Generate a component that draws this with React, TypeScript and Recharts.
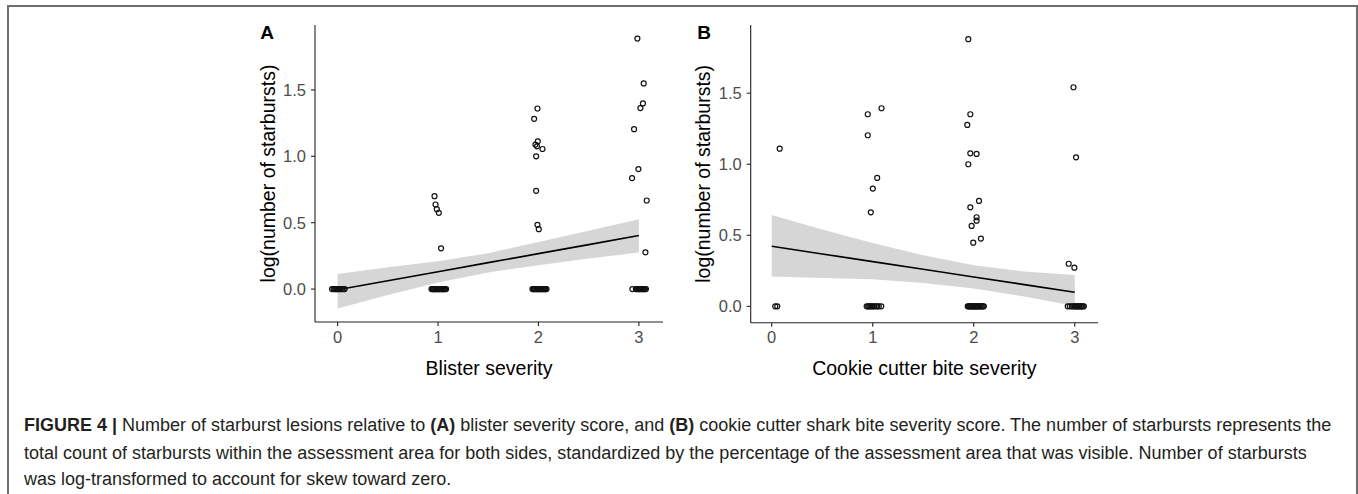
import { ComposedChart, Scatter, Area, Line, XAxis, YAxis } from "recharts";

// fitted line / ribbon grid (severity score)
const fitX = [0, 0.5, 1, 1.5, 2, 2.5, 3];

// panel A: blister severity
const blisterFit = [-0.005, 0.063, 0.131, 0.199, 0.267, 0.335, 0.403];
const blisterLow = [-0.146, -0.045, 0.05, 0.125, 0.18, 0.23, 0.275];
const blisterHigh = [0.113, 0.165, 0.21, 0.27, 0.355, 0.44, 0.526];
const blisterRaisedX = [
  0.965, 0.975, 0.988, 1.008, 1.03,
  1.99, 1.957, 1.993, 1.97, 1.985, 2.04, 1.977, 1.977, 1.99, 2.003,
  2.985, 3.048, 3.04, 3.015, 2.952, 2.995, 2.932, 3.078, 3.065,
];
const blisterRaisedY = [
  0.7, 0.637, 0.602, 0.574, 0.307,
  1.36, 1.282, 1.113, 1.088, 1.075, 1.055, 1.0, 0.74, 0.484, 0.451,
  1.887, 1.549, 1.398, 1.363, 1.204, 0.904, 0.836, 0.667, 0.277,
];
const blisterZeroX = [
  -0.055, -0.04, -0.03, -0.02, -0.01, 0.0, 0.01, 0.02, 0.03, 0.045, 0.06, 0.07,
  0.935, 0.945, 0.95, 0.96, 0.965, 0.975, 0.98, 0.99, 1.0, 1.005, 1.015, 1.02, 1.03,
  1.04, 1.045, 1.055, 1.06, 1.07, 1.08,
  1.94, 1.95, 1.955, 1.965, 1.97, 1.98, 1.985, 1.995, 2.0, 2.01, 2.015, 2.025, 2.03,
  2.04, 2.05, 2.055, 2.065, 2.07, 2.08,
  2.935, 2.97, 2.98, 2.99, 3.0, 3.01, 3.02, 3.03, 3.04, 3.05, 3.06, 3.07,
];

// panel B: cookie cutter bite severity
const biteFit = [0.423, 0.369, 0.315, 0.261, 0.207, 0.153, 0.099];
const biteLow = [0.211, 0.2, 0.19, 0.165, 0.125, 0.07, 0.002];
const biteHigh = [0.643, 0.54, 0.445, 0.36, 0.29, 0.245, 0.221];
const biteRaisedX = [
  0.079,
  0.951, 1.087, 0.951, 1.044, 1.001, 0.981,
  1.946, 1.966, 1.936, 1.966, 2.028, 1.946, 2.052, 1.966, 2.028, 2.028, 1.979, 2.071, 1.995,
  2.987, 3.013, 2.94, 2.996,
];
const biteRaisedY = [
  1.11,
  1.352, 1.394, 1.204, 0.904, 0.829, 0.662,
  1.88, 1.352, 1.277, 1.077, 1.073, 1.0, 0.742, 0.697, 0.627, 0.603, 0.566, 0.477, 0.448,
  1.542, 1.049, 0.3, 0.272,
];
const biteZeroX = [
  0.035, 0.055,
  0.94, 0.955, 0.965, 0.975, 0.99, 1.0, 1.015, 1.03, 1.045, 1.06, 1.085,
  1.94, 1.95, 1.96, 1.97, 1.975, 1.985, 1.995, 2.0, 2.01, 2.02, 2.025, 2.035, 2.045,
  2.05, 2.06, 2.07, 2.08, 2.09, 2.1,
  2.93, 2.95, 2.97, 2.985, 3.0, 3.01, 3.02, 3.03, 3.04, 3.05, 3.06, 3.07, 3.08, 3.09,
];

const xTicks = [0, 1, 2, 3];
const yTicks = [0, 0.5, 1, 1.5];

const captionLines = [
  "Number of starburst lesions relative to ",
  "total count of starbursts within the assessment area for both sides, standardized by the percentage of the assessment area that was visible. Number of starbursts",
  "was log-transformed to account for skew toward zero.",
];

const FONT = "'Liberation Sans', Arial, sans-serif";
const AXIS = "#222";
const TICK = "#4d4d4d";

const ring = (p: any) => (
  <circle cx={p.cx} cy={p.cy} r={2.5} fill="none" stroke="#111" strokeWidth={1.2} />
);

type PanelProps = {
  left: number;
  width: number;
  marginBottom: number;
  yAxisWidth: number;
  yDomain: [number, number];
  xDomain: [number, number];
  fit: number[];
  low: number[];
  high: number[];
  raisedX: number[];
  raisedY: number[];
  zeroX: number[];
  xTitle: string;
  yTitleX: number;
};

function Panel(p: PanelProps) {
  const ribbon = fitX.map((x, i) => ({ x, fit: p.fit[i], band: [p.low[i], p.high[i]] }));
  const points = [
    ...p.zeroX.map((x) => ({ x, y: 0 })),
    ...p.raisedX.map((x, i) => ({ x, y: p.raisedY[i] })),
  ];
  const height = 380;
  return (
    <div style={{ position: "absolute", left: p.left, top: 10 }}>
      <ComposedChart
        width={p.width}
        height={height}
        data={ribbon}
        margin={{ top: 15, right: 7, left: 10, bottom: p.marginBottom }}
      >
        <XAxis
          type="number"
          dataKey="x"
          domain={p.xDomain}
          ticks={xTicks}
          allowDataOverflow
          height={40}
          tickSize={4}
          tickMargin={5}
          stroke={AXIS}
          strokeWidth={1.1}
          tick={{ fill: TICK, fontSize: 16.5, fontFamily: FONT }}
          label={{
            content: (lp: any) => (
              <text
                x={lp.viewBox.x + lp.viewBox.width / 2}
                y={357.7}
                textAnchor="middle"
                dominantBaseline="central"
                fontSize={19.5}
                fontFamily={FONT}
                fill="#000"
              >
                {p.xTitle}
              </text>
            ),
          }}
        />
        <YAxis
          type="number"
          domain={p.yDomain}
          ticks={yTicks}
          allowDataOverflow
          width={p.yAxisWidth}
          tickSize={4}
          tickMargin={5}
          stroke={AXIS}
          strokeWidth={1.1}
          tickFormatter={(v: number) => v.toFixed(1)}
          tick={{ fill: TICK, fontSize: 16.5, fontFamily: FONT }}
          label={{
            content: (lp: any) => {
              const cy = lp.viewBox.y + lp.viewBox.height / 2;
              return (
                <text
                  x={p.yTitleX}
                  y={cy}
                  transform={`rotate(-90, ${p.yTitleX}, ${cy})`}
                  textAnchor="middle"
                  dominantBaseline="central"
                  fontSize={19.5}
                  fontFamily={FONT}
                  fill="#000"
                >
                  log(number of starbursts)
                </text>
              );
            },
          }}
        />
        <Scatter data={points} dataKey="y" shape={ring} isAnimationActive={false} />
        <Area
          dataKey="band"
          stroke="none"
          fill="#999999"
          fillOpacity={0.4}
          isAnimationActive={false}
        />
        <Line
          dataKey="fit"
          stroke="#000"
          strokeWidth={1.6}
          dot={false}
          isAnimationActive={false}
        />
      </ComposedChart>
    </div>
  );
}

export default function App() {
  return (
    <div
      style={{
        position: "absolute",
        left: 0,
        top: 0,
        width: 1358,
        height: 494,
        overflow: "hidden",
        background: "#fff",
        fontFamily: FONT,
      }}
    >
      <div
        style={{
          position: "absolute",
          left: 7,
          top: 5,
          width: 1347,
          height: 600,
          border: "2px solid #6e6e6e",
          borderBottom: "none",
        }}
      />
      <Panel
        left={240}
        width={430}
        marginBottom={28}
        yAxisWidth={65}
        yDomain={[-0.248, 1.989]}
        xDomain={[-0.225, 3.24]}
        fit={blisterFit}
        low={blisterLow}
        high={blisterHigh}
        raisedX={blisterRaisedX}
        raisedY={blisterRaisedY}
        zeroX={blisterZeroX}
        xTitle="Blister severity"
        yTitleX={28}
      />
      <Panel
        left={680}
        width={425}
        marginBottom={27.3}
        yAxisWidth={60.7}
        yDomain={[-0.115, 1.98]}
        xDomain={[-0.208, 3.23]}
        fit={biteFit}
        low={biteLow}
        high={biteHigh}
        raisedX={biteRaisedX}
        raisedY={biteRaisedY}
        zeroX={biteZeroX}
        xTitle="Cookie cutter bite severity"
        yTitleX={23.3}
      />
      <div style={{ position: "absolute", left: 267, top: 33.3, transform: "translate(-50%,-50%)", fontWeight: 700, fontSize: 19 }}>A</div>
      <div style={{ position: "absolute", left: 704, top: 32.7, transform: "translate(-50%,-50%)", fontWeight: 700, fontSize: 19 }}>B</div>
      {[425, 452.7, 478.7].map((cy, i) => (
        <div
          key={i}
          style={{
            position: "absolute",
            left: 24,
            top: cy,
            transform: "translateY(-50%)",
            fontSize: 18,
            whiteSpace: "nowrap",
            color: "#231f20",
          }}
        >
          {i === 0 ? (
            <>
              <b>FIGURE 4 | </b>
              {captionLines[0]}
              <b>(A)</b> blister severity score, and <b>(B)</b> cookie cutter shark bite severity
              score. The number of starbursts represents the
            </>
          ) : (
            captionLines[i]
          )}
        </div>
      ))}
    </div>
  );
}
